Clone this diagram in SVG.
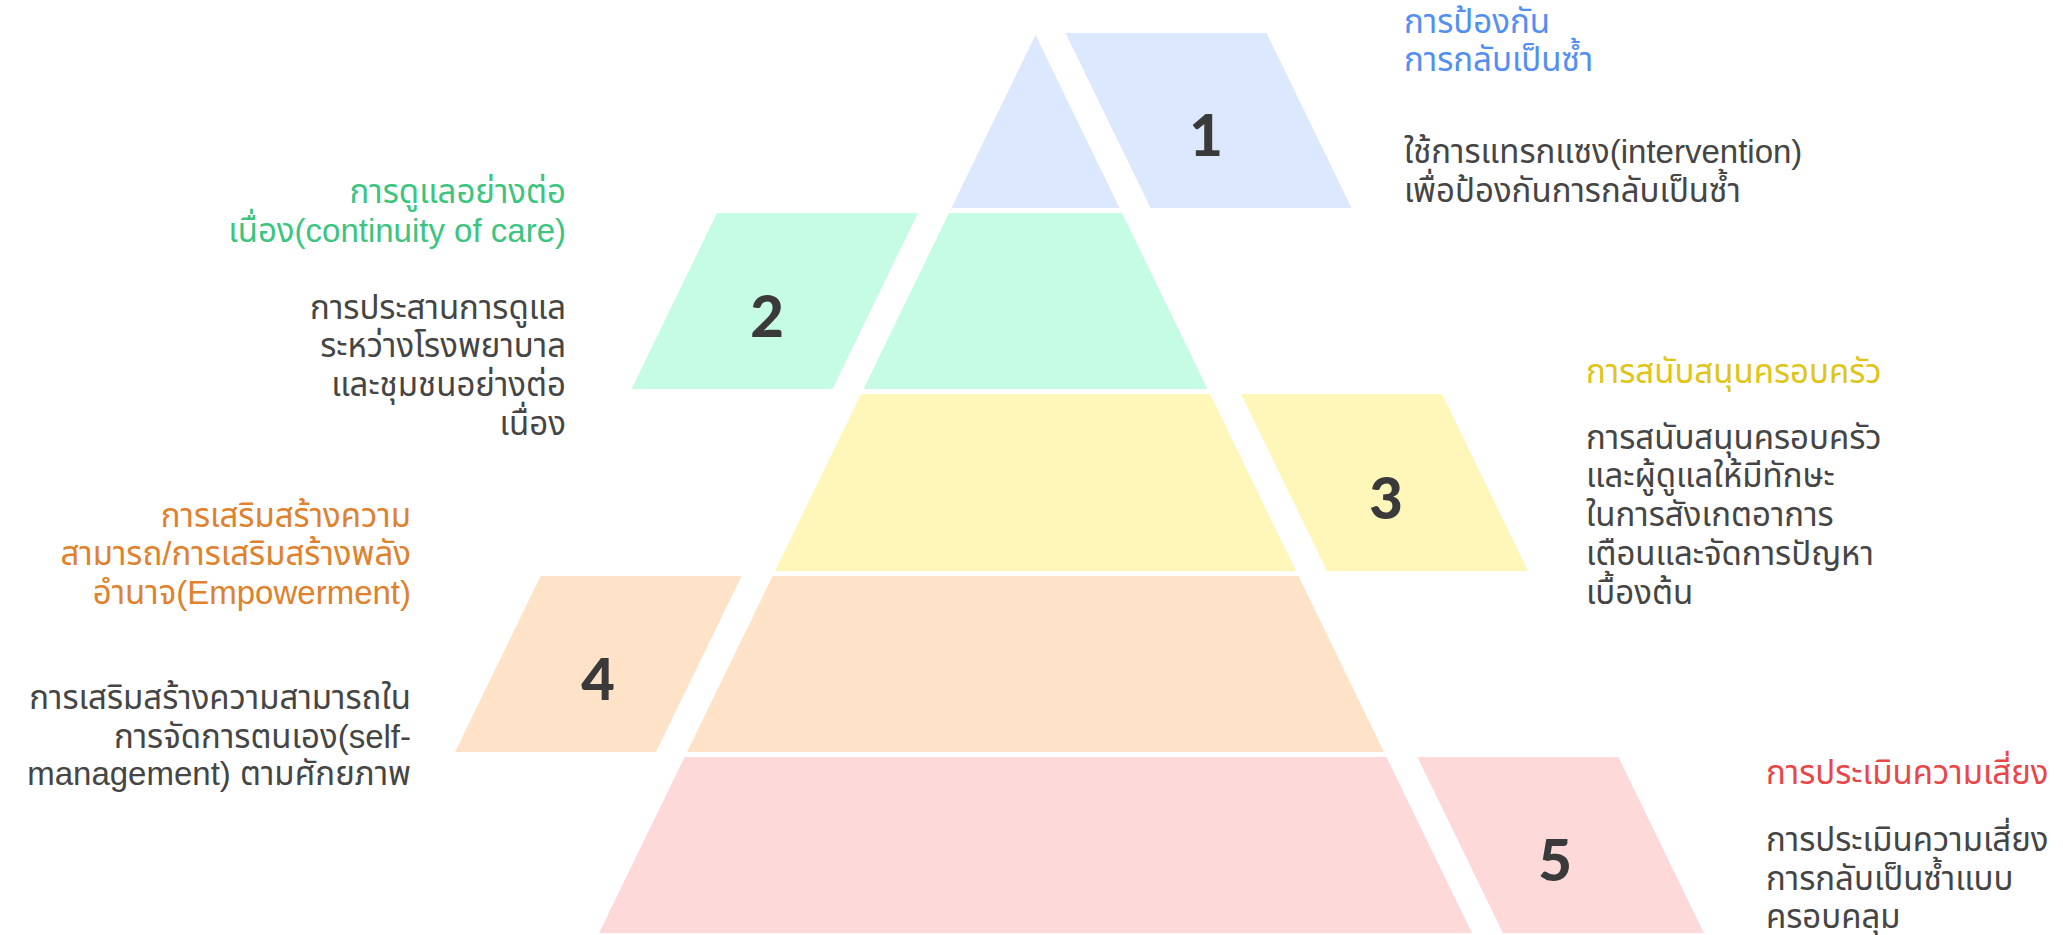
<svg xmlns="http://www.w3.org/2000/svg" width="2063" height="935" viewBox="0 0 2063 935">
<style>
.t{font-family:"Liberation Sans","Noto Sans Thai","Noto Sans",sans-serif;font-size:33px;fill:#454545}
.r{text-anchor:end}
.n{font-family:Lato,"Open Sans",sans-serif;font-weight:900;font-size:58px;fill:#3a3a3a;text-anchor:middle}
.c1{fill:#dce8fd}.c2{fill:#c7fce4}.c3{fill:#fef7b9}.c4{fill:#fee3c9}.c5{fill:#fed9d9}
</style>
<rect width="2063" height="935" fill="#ffffff"/>
<g id="tier1">
<polygon class="c1" points="1035.5,35 1119.6,208 951.4,208"/>
<polygon class="c1" points="1065.5,33 1266.5,33 1351.6,208 1150.6,208"/>
<text class="n" x="1206" y="156">1</text>
<text class="t" style="fill:#538ff2"><tspan x="1404" y="33">การป้องกัน</tspan><tspan x="1404" y="71">การกลับเป็นซ้ำ</tspan></text>
<text class="t"><tspan x="1404" y="163">ใช้การแทรกแซง(intervention)</tspan><tspan x="1404" y="202">เพื่อป้องกันการกลับเป็นซ้ำ</tspan></text>
</g>
<g id="tier2">
<polygon class="c2" points="949,213 1122,213 1207.5,389 863.5,389"/>
<polygon class="c2" points="717,213 918,213 832.5,389 631.5,389"/>
<text class="n" x="767" y="337">2</text>
<text class="t r" style="fill:#3cc480"><tspan x="566" y="203">การดูแลอย่างต่อ</tspan><tspan x="566" y="242">เนื่อง(continuity of care)</tspan></text>
<text class="t r"><tspan x="566" y="319">การประสานการดูแล</tspan><tspan x="566" y="357">ระหว่างโรงพยาบาล</tspan><tspan x="566" y="396">และชุมชนอย่างต่อ</tspan><tspan x="566" y="435">เนื่อง</tspan></text>
</g>
<g id="tier3">
<polygon class="c3" points="861,394 1210,394 1296,571 775,571"/>
<polygon class="c3" points="1241,394 1442,394 1528,571 1327,571"/>
<text class="n" x="1386" y="519">3</text>
<text class="t" x="1586" y="383" style="fill:#e0c416">การสนับสนุนครอบครัว</text>
<text class="t"><tspan x="1586" y="449">การสนับสนุนครอบครัว</tspan><tspan x="1586" y="487">และผู้ดูแลให้มีทักษะ</tspan><tspan x="1586" y="526">ในการสังเกตอาการ</tspan><tspan x="1586" y="565">เตือนและจัดการปัญหา</tspan><tspan x="1586" y="604">เบื้องต้น</tspan></text>
</g>
<g id="tier4">
<polygon class="c4" points="772.6,576 1298.4,576 1384,752 687,752"/>
<polygon class="c4" points="540.6,576 741.6,576 656,752 455,752"/>
<text class="n" x="598" y="700">4</text>
<text class="t r" style="fill:#e0812d"><tspan x="411" y="527">การเสริมสร้างความ</tspan><tspan x="411" y="565">สามารถ/การเสริมสร้างพลัง</tspan><tspan x="411" y="604">อำนาจ(Empowerment)</tspan></text>
<text class="t r"><tspan x="411" y="709">การเสริมสร้างความสามารถใน</tspan><tspan x="411" y="748">การจัดการตนเอง(self-</tspan><tspan x="411" y="785">management) ตามศักยภาพ</tspan></text>
</g>
<g id="tier5">
<polygon class="c5" points="684.6,757 1386.4,757 1472,933 599,933"/>
<polygon class="c5" points="1417.4,757 1618.4,757 1703.9,933 1502.9,933"/>
<text class="n" x="1555" y="881">5</text>
<text class="t" x="1766" y="784" style="fill:#e8474a">การประเมินความเสี่ยง</text>
<text class="t"><tspan x="1766" y="851">การประเมินความเสี่ยง</tspan><tspan x="1766" y="890">การกลับเป็นซ้ำแบบ</tspan><tspan x="1766" y="928">ครอบคลุม</tspan></text>
</g>
<g id="connectors"></g>
</svg>
